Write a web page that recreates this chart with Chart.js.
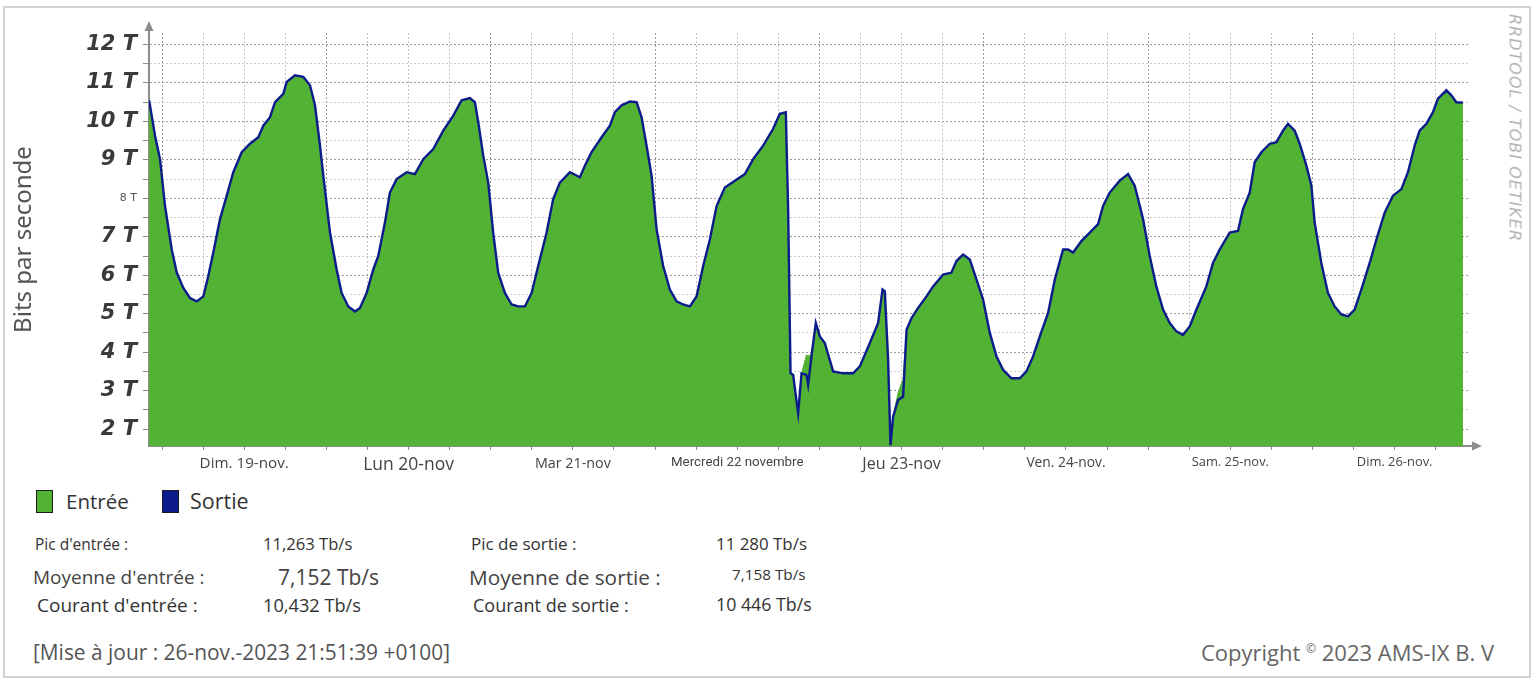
<!DOCTYPE html>
<html lang="fr">
<head>
<meta charset="utf-8">
<title>Trafic AMS-IX</title>
<script src="https://cdn.jsdelivr.net/npm/chart.js@4.4.0/dist/chart.umd.min.js"></script>
<style>
  html, body { margin: 0; padding: 0; background: #fff; }
  body { width: 1536px; height: 681px; position: relative; overflow: hidden; font-family: "Open Sans", "Noto Sans", sans-serif; color: #333; }
  #frame { position: absolute; left: 3px; top: 6px; width: 1528px; height: 672px; border: 2px solid #d2d2d2; box-sizing: border-box; }
  #chartBox { position: absolute; left: 0; top: 0; width: 1536px; height: 480px; }
  .t { position: absolute; white-space: nowrap; line-height: 1; transform: translateY(-50%); }
  .sw { position: absolute; width: 15px; height: 21px; border: 1.5px solid #1b1b1b; top: 490px; }
  #rrd { position: absolute; left: 1515px; top: 128px; transform: translate(-50%, -50%) rotate(90deg);
         font: italic 16px "DejaVu Sans", sans-serif; color: #b0b0b0; white-space: nowrap; letter-spacing: 1px; }
</style>
</head>
<body>
<div id="frame"></div>
<div id="chartBox"><canvas id="traffic"></canvas></div>
<div id="rrd">RRDTOOL / TOBI OETIKER</div>

<div class="sw" style="left:36px; background:#52b234;"></div>
<div class="t" style="left:66px; top:501px; font-size:20.5px;">Entrée</div>
<div class="sw" style="left:162px; background:#0c1c8a;"></div>
<div class="t" style="left:190px; top:501px; font-size:21.5px;">Sortie</div>

<div class="t" style="left:35px; top:545px; font-size:15.5px;">Pic d'entrée :</div>
<div class="t" style="left:263px; top:544px; font-size:16.6px;">11,263 Tb/s</div>
<div class="t" style="left:471px; top:543px; font-size:17px;">Pic de sortie :</div>
<div class="t" style="left:716px; top:544px; font-size:16.9px;">11 280 Tb/s</div>

<div class="t" style="left:33px; top:577px; font-size:19px; color:#444;">Moyenne d'entrée :</div>
<div class="t" style="left:278px; top:577px; font-size:21px; color:#444;">7,152 Tb/s</div>
<div class="t" style="left:469px; top:577px; font-size:20.8px; color:#444;">Moyenne de sortie :</div>
<div class="t" style="left:732px; top:575px; font-size:15.3px;">7,158 Tb/s</div>

<div class="t" style="left:37px; top:605px; font-size:19px;">Courant d'entrée :</div>
<div class="t" style="left:263px; top:605px; font-size:18.2px;">10,432 Tb/s</div>
<div class="t" style="left:473px; top:605px; font-size:18px;">Courant de sortie :</div>
<div class="t" style="left:716px; top:605px; font-size:17.8px;">10 446 Tb/s</div>

<div class="t" style="left:33px; top:652px; font-size:20.9px; color:#555;">[Mise à jour : 26-nov.-2023 21:51:39 +0100]</div>
<div class="t" style="right:42px; top:652px; font-size:22px; color:#666;">Copyright <sup style="font-size:12px;">©</sup> 2023 AMS-IX B. V</div>

<script>
// hours from midnight, Sun 19 Nov
const hours = [
  -1.9, -1.75, -1.02, -0.29, 0.44, 1.42, 2.15, 3.11, 4.09, 5.07, 6.03, 6.76, 7.49, 8.47, 9.45,
  10.41, 11.64, 12.85, 14.06, 14.79, 15.77, 16.5, 17.71, 18.2, 19.42, 20.63, 21.61, 22.34, 23.07, 23.55,
  24.53, 25.5, 26.23, 27.2, 28.18, 28.91, 29.88, 30.85, 31.58, 32.55, 33.28, 34.26, 35.72, 36.93, 38.15,
  39.61, 41.07, 42.53, 43.75, 44.96, 45.69, 46.18, 46.91, 47.64, 48.36, 49.09, 50.07, 51.05, 52.01, 52.99,
  53.97, 54.93, 56.16, 57.12, 58.1, 59.56, 61.02, 61.75, 62.73, 64.19, 65.4, 66.13, 67.11, 68.32, 69.3,
  70.03, 70.76, 71.49, 72.22, 73.18, 74.16, 75.14, 76.1, 77.08, 78.06, 79.02, 80.0, 80.98, 82.19, 83.65,
  85.11, 86.32, 87.78, 89.24, 90.22, 91.09, 91.43, 91.78, 92.16, 92.89, 93.39, 94.11, 94.35, 94.84, 95.47,
  96.06, 96.79, 98.0, 99.46, 100.92, 101.9, 103.36, 104.57, 105.21, 105.55, 106.03, 106.38, 106.76, 107.49, 108.22,
  108.72, 109.45, 110.41, 111.63, 112.6, 114.06, 115.28, 116.01, 116.98, 117.96, 118.93, 119.9, 120.88, 121.85, 122.82,
  124.04, 125.26, 126.23, 127.2, 128.18, 129.39, 130.37, 131.58, 132.31, 133.04, 134.26, 135.47, 136.69, 137.42, 138.39,
  139.85, 141.07, 142.04, 143.26, 144.23, 145.2, 146.18, 147.15, 148.13, 149.09, 150.07, 151.05, 152.5, 153.47, 154.45,
  155.91, 157.12, 157.85, 158.83, 159.56, 160.54, 161.75, 162.73, 163.69, 164.42, 165.4, 166.13, 167.11, 167.84, 168.32,
  169.29, 170.26, 171.24, 172.22, 173.18, 174.16, 175.14, 176.35, 177.33, 178.54, 179.75, 180.98, 181.94, 182.92, 183.65,
  184.63, 185.59, 186.32, 187.55, 188.28, 189.0, 189.97
];

// Tb/s
const sortie = [
  10.55, 10.41, 9.63, 9.02, 7.8, 6.67, 6.07, 5.67, 5.41, 5.32, 5.45, 5.98, 6.59, 7.46, 8.07,
  8.68, 9.2, 9.42, 9.59, 9.89, 10.11, 10.5, 10.72, 11.03, 11.2, 11.16, 10.94, 10.42, 9.37, 8.59,
  7.11, 6.15, 5.54, 5.19, 5.06, 5.15, 5.54, 6.15, 6.5, 7.37, 8.15, 8.5, 8.68, 8.63, 9.02,
  9.28, 9.76, 10.15, 10.55, 10.61, 10.5, 9.98, 9.11, 8.41, 7.11, 6.07, 5.54, 5.24, 5.19, 5.19,
  5.54, 6.24, 7.11, 7.98, 8.41, 8.68, 8.55, 8.85, 9.2, 9.59, 9.89, 10.24, 10.42, 10.52, 10.5,
  10.11, 9.37, 8.59, 7.2, 6.24, 5.63, 5.32, 5.24, 5.19, 5.45, 6.24, 6.93, 7.8, 8.28, 8.46,
  8.63, 9.02, 9.37, 9.81, 10.2, 10.24, 7.72, 3.45, 3.41, 2.41, 3.45, 3.41, 3.15, 3.89, 4.76,
  4.41, 4.24, 3.5, 3.45, 3.45, 3.63, 4.24, 4.76, 5.63, 5.58, 3.8, 1.58, 2.32, 2.76, 2.84,
  4.58, 4.89, 5.15, 5.45, 5.71, 6.02, 6.07, 6.37, 6.54, 6.41, 5.89, 5.37, 4.5, 3.89, 3.54,
  3.32, 3.32, 3.5, 3.89, 4.41, 5.02, 5.89, 6.67, 6.67, 6.59, 6.89, 7.11, 7.33, 7.8, 8.15,
  8.46, 8.63, 8.33, 7.46, 6.5, 5.71, 5.11, 4.76, 4.54, 4.45, 4.67, 5.11, 5.71, 6.32, 6.67,
  7.11, 7.15, 7.72, 8.15, 8.94, 9.2, 9.42, 9.46, 9.76, 9.94, 9.76, 9.42, 8.85, 8.33, 7.37,
  6.32, 5.54, 5.19, 4.98, 4.93, 5.11, 5.63, 6.32, 6.93, 7.63, 8.07, 8.24, 8.68, 9.37, 9.76,
  9.94, 10.24, 10.59, 10.81, 10.68, 10.5, 10.49
];

const entree = [
  10.55, 10.41, 9.63, 9.02, 7.8, 6.67, 6.07, 5.67, 5.41, 5.32, 5.45, 5.98, 6.59, 7.46, 8.07,
  8.68, 9.2, 9.42, 9.59, 9.89, 10.11, 10.5, 10.72, 11.03, 11.2, 11.16, 10.94, 10.42, 9.37, 8.59,
  7.11, 6.15, 5.54, 5.19, 5.06, 5.15, 5.54, 6.15, 6.5, 7.37, 8.15, 8.5, 8.68, 8.63, 9.02,
  9.28, 9.76, 10.15, 10.55, 10.61, 10.5, 9.98, 9.11, 8.41, 7.11, 6.07, 5.54, 5.24, 5.19, 5.19,
  5.54, 6.24, 7.11, 7.98, 8.41, 8.68, 8.55, 8.85, 9.2, 9.59, 9.89, 10.24, 10.42, 10.52, 10.5,
  10.11, 9.37, 8.59, 7.2, 6.24, 5.63, 5.32, 5.24, 5.19, 5.45, 6.24, 6.93, 7.8, 8.28, 8.46,
  8.63, 9.02, 9.37, 9.81, 10.2, 10.24, 7.72, 3.45, 3.41, 2.41, 3.45, 3.93, 3.9, 3.95, 4.76,
  4.41, 4.24, 3.5, 3.45, 3.45, 3.63, 4.24, 4.76, 5.63, 5.58, 3.8, 1.58, 2.32, 2.95, 3.3,
  4.58, 4.89, 5.15, 5.45, 5.71, 6.02, 6.07, 6.37, 6.54, 6.41, 5.89, 5.37, 4.5, 3.89, 3.54,
  3.32, 3.32, 3.5, 3.89, 4.41, 5.02, 5.89, 6.67, 6.67, 6.59, 6.89, 7.11, 7.33, 7.8, 8.15,
  8.46, 8.63, 8.33, 7.46, 6.5, 5.71, 5.11, 4.76, 4.54, 4.45, 4.67, 5.11, 5.71, 6.32, 6.67,
  7.11, 7.15, 7.72, 8.15, 8.94, 9.2, 9.42, 9.46, 9.76, 9.94, 9.76, 9.42, 8.85, 8.33, 7.37,
  6.32, 5.54, 5.19, 4.98, 4.93, 5.11, 5.63, 6.32, 6.93, 7.63, 8.07, 8.24, 8.68, 9.37, 9.76,
  9.94, 10.24, 10.59, 10.81, 10.68, 10.5, 10.49
];

// one label per day, drawn at noon
const dayLabels = ['Dim. 19-nov.', 'Lun 20-nov', 'Mar 21-nov', 'Mercredi 22 novembre',
                   'Jeu 23-nov', 'Ven. 24-nov.', 'Sam. 25-nov.', 'Dim. 26-nov.'];
const yTickValues = [2, 3, 4, 5, 6, 7, 8, 9, 10, 11, 12];

// label font sizes differ in the original picture
const dayLabelSizes = [15.2, 17.5, 14.3, 13.3, 16.1, 13.8, 12.9, 12.9];

const green = '#52b234';
const navy = '#0c1c8a';
const axisGray = '#8c8c8c';

// grid every 6 h, labels at noon
const xGrid = [];
for (let h = 0; h <= 186; h += 6) xGrid.push(h);
const yGrid = [];
yTickValues.forEach((v, i) => {
  yGrid.push(v);
  if (i < yTickValues.length - 1) yGrid.push(v + 0.5);
});

const tickVal = c => (c && c.tick) ? c.tick.value : null;

const axisArrows = {
  id: 'axisArrows',
  afterDraw(chart) {
    const { ctx, chartArea: a } = chart;
    ctx.save();
    ctx.strokeStyle = axisGray;
    ctx.fillStyle = axisGray;
    ctx.lineWidth = 2;
    ctx.beginPath();
    ctx.moveTo(a.left, a.top + 1);
    ctx.lineTo(a.left, a.top - 4);
    ctx.moveTo(a.right - 1, a.bottom);
    ctx.lineTo(a.right + 4, a.bottom);
    ctx.stroke();
    ctx.beginPath();
    ctx.moveTo(a.left, a.top - 12);
    ctx.lineTo(a.left - 4.5, a.top - 2);
    ctx.lineTo(a.left + 4.5, a.top - 2);
    ctx.closePath();
    ctx.fill();
    ctx.beginPath();
    ctx.moveTo(a.right + 12, a.bottom);
    ctx.lineTo(a.right + 2, a.bottom - 4.5);
    ctx.lineTo(a.right + 2, a.bottom + 4.5);
    ctx.closePath();
    ctx.fill();
    ctx.restore();
  }
};

new Chart(document.getElementById('traffic').getContext('2d'), {
  type: 'line',
  data: {
    datasets: [{
      label: 'Sortie',
      data: hours.map((h, i) => ({ x: h, y: sortie[i] })),
      borderColor: navy,
      borderWidth: 2.4,
      fill: false,
      pointRadius: 0,
      tension: 0,
      order: 0
    }, {
      label: 'Entrée',
      data: hours.map((h, i) => ({ x: h, y: entree[i] })),
      borderColor: green,
      borderWidth: 1,
      backgroundColor: green,
      fill: 'start',
      pointRadius: 0,
      tension: 0,
      order: 1
    }]
  },
  options: {
    responsive: true,
    maintainAspectRatio: false,
    animation: false,
    layout: { padding: { left: 0, top: 33, right: 66, bottom: 0 } },
    plugins: { legend: { display: false }, tooltip: { enabled: false } },
    scales: {
      x: {
        type: 'linear',
        min: -1.9,
        max: 191,
        afterBuildTicks: s => { s.ticks = xGrid.map(v => ({ value: v })); },
        afterFit: s => { s.height = 34; },
        grid: {
          color: c => tickVal(c) !== null && tickVal(c) % 24 === 0 ? '#9a9a9a' : '#c4c4c4',
          lineWidth: 1,
          tickLength: 4,
          tickColor: axisGray
        },
        border: { color: axisGray, width: 2, dash: [2, 2] },
        ticks: {
          autoSkip: false,
          maxRotation: 0,
          minRotation: 0,
          padding: 5,
          color: '#444',
          font: c => {
            const v = tickVal(c);
            const k = v === null ? -1 : (v - 12) / 24;
            const size = Number.isInteger(k) && k >= 0 ? dayLabelSizes[k] : 13;
            return { family: k === 3 ? '"Liberation Sans Narrow", Roboto, sans-serif' : '"Open Sans", sans-serif', size: size };
          },
          callback: v => ((v - 12) % 24 === 0) ? dayLabels[(v - 12) / 24] : ''
        }
      },
      y: {
        min: 1.56,
        max: 12.3,
        afterBuildTicks: s => { s.ticks = yGrid.map(v => ({ value: v })); },
        afterFit: s => { s.width = 149; },
        title: {
          display: true,
          text: 'Bits par seconde',
          color: '#555',
          font: { family: '"Noto Sans", sans-serif', size: 24 },
          padding: { top: 10, bottom: 0 }
        },
        grid: {
          color: c => Number.isInteger(tickVal(c)) ? '#9a9a9a' : '#cfcfcf',
          lineWidth: 1,
          tickLength: 6,
          tickColor: axisGray
        },
        border: { color: axisGray, width: 2, dash: [2, 2] },
        ticks: {
          autoSkip: false,
          padding: 6,
          color: c => tickVal(c) === 8 ? '#555' : '#3a3a3a',
          font: c => tickVal(c) === 8
            ? { family: '"DejaVu Sans", sans-serif', size: 11 }
            : { family: '"DejaVu Sans", sans-serif', size: 21, style: 'italic', weight: 'bold' },
          callback: v => Number.isInteger(v) ? v + ' T' : ''
        }
      }
    }
  },
  plugins: [axisArrows]
});
</script>
</body>
</html>
